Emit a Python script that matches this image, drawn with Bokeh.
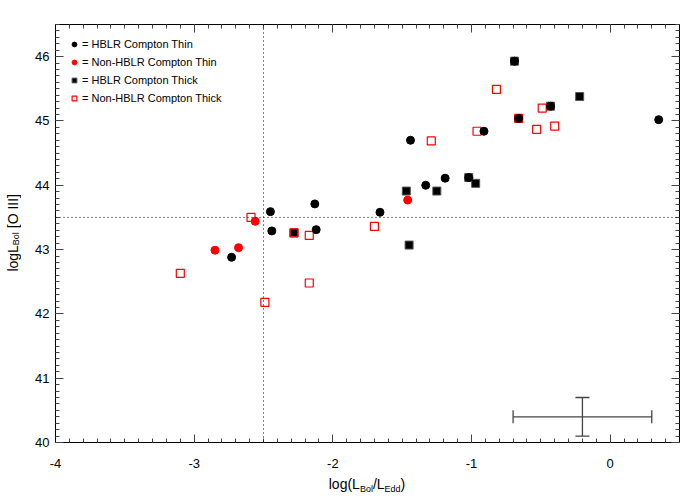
from bokeh.plotting import figure
from bokeh.layouts import column, row
from bokeh.models import (SingleIntervalTicker, LinearAxis, Span, Legend, Div,
                          LegendItem, Whisker, TeeHead, ColumnDataSource,
                          CustomJSTickFormatter)
from bokeh.embed import file_html
from bokeh.resources import INLINE

# ---------------- data ----------------
hblr_thin_x = [-2.73, -2.45, -2.44, -2.13, -2.12, -1.66, -1.44, -1.33, -1.19, -0.91, 0.35,
               -0.69, -0.43, -1.02, -0.66]
hblr_thin_y = [42.88, 43.59, 43.29, 43.71, 43.31, 43.58, 44.70, 44.00, 44.11, 44.84, 45.02,
               45.93, 45.23, 44.12, 45.04]

nonhblr_thin_x = [-2.85, -2.68, -2.56, -1.46]
nonhblr_thin_y = [42.99, 43.03, 43.44, 43.77]

hblr_thick_x = [-2.28, -1.47, -1.45, -1.25, -1.02, -0.97, -0.69, -0.43, -0.22]
hblr_thick_y = [43.26, 43.91, 43.07, 43.91, 44.12, 44.03, 45.93, 45.23, 45.38]

nonhblr_thick_x = [-3.10, -2.59, -2.49, -2.28, -2.17, -2.17, -1.70, -1.29, -0.96, -0.82,
                   -0.66, -0.53, -0.49, -0.40]
nonhblr_thick_y = [42.63, 43.50, 42.18, 43.26, 42.48, 43.22, 43.36, 44.69, 44.84, 45.49,
                   45.04, 44.87, 45.20, 44.92]

err_x = [-0.20]
err_y = [40.40]
err_dx = [0.50]
err_dy = [0.30]

edd_cut = -2.5
oiii_cut = 43.5

legend_labels = ["= HBLR Compton Thin", "= Non-HBLR Compton Thin",
                 "= HBLR Compton Thick", "= Non-HBLR Compton Thick"]

x_label_html = "log(L<sub>Bol</sub>/L<sub>Edd</sub>)"
y_label_html = "logL<sub>Bol</sub> [O III]"

FONT = "Liberation Sans"

# ---------------- figure ----------------
YDIV_W = 24
p = figure(frame_width=624, frame_height=418, x_range=(-4, 0.5), y_range=(40, 46.5),
           output_backend="svg", toolbar_location=None,
           min_border_left=55 - YDIV_W, min_border_right=5, min_border_top=24,
           min_border_bottom=32, margin=0)
p.grid.visible = False
p.outline_line_color = "black"
p.outline_line_width = 1
p.background_fill_color = "white"
p.border_fill_color = "white"

def style_axis(ax, labels=True):
    ax.ticker = SingleIntervalTicker(interval=1, num_minor_ticks=10)
    ax.major_tick_in = 8
    ax.major_tick_out = 0
    ax.minor_tick_in = 4
    ax.minor_tick_out = 0
    ax.major_tick_line_color = "#444444"
    ax.minor_tick_line_color = "#444444"
    ax.axis_line_color = "black"
    if labels:
        ax.formatter = CustomJSTickFormatter(code="return tick.toFixed(0);")
        ax.major_label_text_font = FONT
        ax.major_label_text_font_size = "13px"
        ax.major_label_text_color = "black"
    else:
        ax.formatter = CustomJSTickFormatter(code="return '';")
        ax.major_label_standoff = 0

style_axis(p.xaxis[0])
style_axis(p.yaxis[0])
p.xaxis[0].major_label_standoff = 16
p.yaxis[0].major_label_standoff = 6

top_ax = LinearAxis()
right_ax = LinearAxis()
style_axis(top_ax, labels=False)
style_axis(right_ax, labels=False)
p.add_layout(top_ax, "above")
p.add_layout(right_ax, "right")

# reference lines
p.add_layout(Span(location=edd_cut, dimension="height", line_color="black",
                  line_dash="1 3", line_width=1))
p.add_layout(Span(location=oiii_cut, dimension="width", line_color="black",
                  line_dash="1 3", line_width=1))

# points
r_thick = p.scatter(hblr_thick_x, hblr_thick_y, marker="square", size=8,
                    fill_color="black", line_color="#555555", line_width=1)
r_nthick = p.scatter(nonhblr_thick_x, nonhblr_thick_y, marker="square", size=8,
                     fill_color=None, line_color="red", line_width=1.2)
r_thin = p.scatter(hblr_thin_x, hblr_thin_y, marker="circle", size=8,
                   fill_color="black", line_color="black")
r_nthin = p.scatter(nonhblr_thin_x, nonhblr_thin_y, marker="circle", size=8,
                    fill_color="red", line_color="red")

# error bar
es = ColumnDataSource(dict(
    x=err_x, y=err_y,
    xl=[a - b for a, b in zip(err_x, err_dx)], xu=[a + b for a, b in zip(err_x, err_dx)],
    yl=[a - b for a, b in zip(err_y, err_dy)], yu=[a + b for a, b in zip(err_y, err_dy)]))
p.add_layout(Whisker(source=es, base="y", lower="xl", upper="xu", dimension="width",
                     line_color="#444444", line_width=1.3,
                     upper_head=TeeHead(size=13, line_color="#444444", line_width=1.3),
                     lower_head=TeeHead(size=13, line_color="#444444", line_width=1.3)))
p.add_layout(Whisker(source=es, base="x", lower="yl", upper="yu", dimension="height",
                     line_color="#444444", line_width=1.3,
                     upper_head=TeeHead(size=14, line_color="#444444", line_width=1.3),
                     lower_head=TeeHead(size=14, line_color="#444444", line_width=1.3)))

# legend
legend = Legend(items=[LegendItem(label=legend_labels[0], renderers=[r_thin]),
                       LegendItem(label=legend_labels[1], renderers=[r_nthin]),
                       LegendItem(label=legend_labels[2], renderers=[r_thick]),
                       LegendItem(label=legend_labels[3], renderers=[r_nthick])],
                location=(13, 335), padding=0, margin=0, spacing=0,
                glyph_width=12, glyph_height=18, label_height=18, label_standoff=2,
                label_text_font=FONT, label_text_font_size="11px",
                label_text_color="black",
                background_fill_alpha=0, border_line_alpha=0)
p.add_layout(legend, "center")

# axis titles as HTML (subscripts)
sub = "font-size:9px; vertical-align:-3px; line-height:0;"
xl = x_label_html.replace("<sub>", f'<sub style="{sub}">')
yl = y_label_html.replace("<sub>", f'<sub style="{sub}">')

PW = (55 - YDIV_W) + 624 + 5
PH = 24 + 418 + 32

ydiv = Div(width=YDIV_W, height=PH, margin=0, text=(
    f'<div style="width:{YDIV_W}px; height:418px; margin-top:24px; display:flex; '
    f'align-items:center; justify-content:center;">'
    f'<div style="writing-mode:vertical-rl; transform:rotate(180deg); '
    f'font-family:\'{FONT}\'; font-size:14px; line-height:16px; color:black; '
    f'white-space:nowrap; position:relative; left:1px;">{yl}</div></div>'))

xdiv = Div(width=YDIV_W + PW, height=29, margin=0, text=(
    f'<div style="width:624px; margin-left:55px; text-align:center; padding-top:2px; '
    f'font-family:\'{FONT}\'; font-size:14px; line-height:16px; color:black; '
    f'white-space:nowrap;">{xl}</div>'))

layout = column(row(ydiv, p, spacing=0, margin=0), xdiv, spacing=0, margin=0)

open("out.html", "w").write(file_html(layout, INLINE))
